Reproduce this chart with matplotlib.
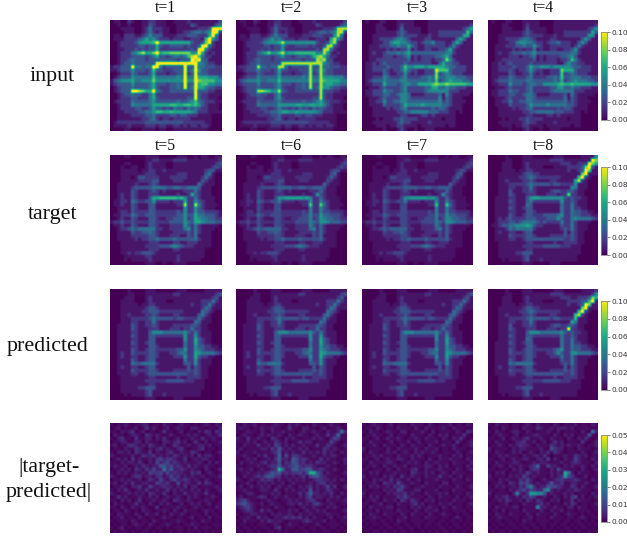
import numpy as np
import matplotlib
matplotlib.use("Agg")
import matplotlib.pyplot as plt

W, H = 627, 538

input_t1 = """
0110 0210 0112 2111 0011 1121 1111 1113
0010 0100 0113 2111 0001 1113 2111 1134
0001 1110 0124 2221 1001 1111 1222 3aaa
0000 1110 0124 2121 1001 1223 4434 5aa2
0110 2221 1235 3331 1112 2233 3222 6a41
0111 2222 3464 5322 2122 2112 2217 a531
0012 2223 5666 7a66 6666 6663 2238 a211
0012 2222 3323 3632 2333 3232 23aa 3211
0011 2223 2323 3622 2222 2223 2aa4 2111
0012 2245 7966 8a67 7888 8885 5a62 1211
0012 2233 3323 4633 2344 3479 a742 2111
0012 2343 3323 3333 3332 333a 9a33 1111
0012 3343 3333 3aaa aaaa aaaa a543 2211
1223 33a4 4344 aa42 3333 3a33 a443 3322
1123 3353 3323 7332 2233 3a34 a533 2222
0012 2243 2223 6222 1223 3a23 a433 2222
0123 3354 4444 7444 4445 4a44 a666 5553
1345 5564 4555 8555 5555 5a55 a877 7755
1233 3353 3334 6333 2334 3a33 a677 5544
0123 3343 3334 6322 2334 3a34 a664 3322
0123 33aa 9866 a432 2333 3333 a333 2211
0012 3343 3224 6222 2222 2222 a322 1111
0012 2233 2224 6322 2222 2233 a322 1110
0122 2243 3334 5333 3334 3345 7432 2211
0012 2254 4444 6666 6776 6776 7532 1110
0012 2223 3223 5332 3243 3243 4322 1110
0011 2222 3344 5776 6766 6665 4222 1111
0011 1122 2233 4222 2332 3322 2111 1000
0011 1111 1223 4212 2122 2221 1111 1000
0122 2222 2233 3333 3333 3222 2221 1000
0111 1211 1122 2122 1122 1212 2122 1000
0000 1100 0111 1011 0011 1111 1111 0000
"""

input_t4 = """
0100 0110 0011 1110 0001 1111 1111 1111
0000 1100 0012 1110 0001 1111 1111 1112
0000 1110 0013 1111 1001 1111 1111 1235
0000 1111 1123 2111 1001 1122 2222 2263
0001 1111 1123 2222 1112 1122 2222 2551
0001 1222 2344 3211 1122 1111 1113 5311
0001 1122 4554 4322 1233 4222 1135 3111
0011 1222 3343 3532 1122 2222 1242 1111
0011 1112 1212 2412 1122 1122 3521 1111
0012 1123 3343 4533 3333 3333 4421 1111
0011 1122 2122 3412 1222 2334 5311 1111
0011 2222 2222 2312 1222 1223 7421 1111
0112 1232 2222 3222 2222 1135 3322 1111
0112 2223 2223 6445 5545 5555 4332 2211
0112 2232 1223 5322 1122 2866 6322 2211
0111 1132 1122 4212 1122 2723 4322 2111
0112 2243 2223 4222 2334 3733 4443 3322
0123 3343 3334 4333 3334 3623 4544 4332
0112 2253 3323 4433 5555 6766 7666 6655
0011 1232 2223 4222 2233 5533 4332 2211
0112 2243 3223 4222 2234 4444 4222 1111
0112 2233 2234 4311 1122 2231 4211 1110
0011 1232 2224 4322 2222 2241 3211 1000
0011 2242 2334 4333 3333 3342 3211 1100
0011 1132 2223 5444 4544 4443 3211 1000
0001 1112 1223 4222 2222 3233 2111 1000
0001 1111 1122 3344 4443 3322 2110 1000
0001 1111 1112 2111 1221 2111 1110 0000
0000 1011 1223 2222 1111 1110 1110 0000
0001 1111 1123 2211 1112 1111 1110 0000
0000 1110 1122 1111 0111 1111 0110 0000
0000 0010 0012 1001 0011 1000 0000 0000
"""

target_t5 = """
0000 1100 0011 1100 0001 1100 1011 0011
0000 0000 0011 2211 1122 2211 1111 1112
0000 1100 0012 1111 0011 1111 1111 1123
0001 0011 0012 1111 0011 1111 1111 1232
0001 1111 0112 2112 1111 1111 1112 3311
0001 1111 1122 2111 1112 2211 1113 4100
0001 1101 3322 2211 1222 2211 1124 2100
0001 1111 2222 3311 1122 2111 1132 1100
0011 1112 1112 3211 1111 1111 1421 1100
0011 1123 3333 4444 3344 3344 4311 1000
0011 1132 1112 3212 1111 1222 4211 1000
0012 1132 1112 2211 1112 1126 3211 1000
0012 1132 1113 6677 7776 7522 4211 1100
0112 2143 2233 5222 2122 2622 5321 1100
0112 1132 1113 3111 1112 2922 9421 1110
0011 1132 1113 3111 1111 1522 5321 1100
0012 2132 2223 3222 2223 2522 5332 2221
0112 2243 2233 3222 2223 3533 6443 3321
0012 1132 1113 3211 2233 3523 6544 3322
1223 2232 2223 3222 2333 3543 6654 4433
0112 1132 1113 3211 1222 2532 4211 1110
0012 2343 4444 4221 1222 2452 4211 1100
0011 1132 2334 3211 1122 2232 4211 1000
0011 1122 2223 3211 1222 1132 4111 1000
0011 1112 1223 3433 3343 3333 4211 1000
0001 1111 1112 2211 1122 1122 2111 1000
0001 1111 1122 2233 3454 3222 1111 1000
0001 1111 1112 2211 1122 1111 1110 0000
0001 1212 2333 2111 1111 1111 1110 0000
0000 1111 1122 1111 1112 1111 1110 0000
0000 1011 1112 1111 1112 1111 1100 0000
0000 0000 0011 1001 0011 1100 0000 0000
"""

target_t8 = """
0000 0100 0011 1000 0001 1100 0001 1115
0000 0110 0011 1111 1122 2211 1111 11a8
0000 1110 0012 1111 1111 1222 1122 2a86
0000 1110 0012 1111 0001 1112 2223 8a31
0000 1111 0112 2111 1111 1112 1123 a811
0001 1111 1123 3221 1111 1111 1118 a111
0001 1111 1223 4322 2222 2111 117a 2100
0001 1211 1122 3211 1122 1111 1692 1000
0001 1122 2223 4333 3323 3222 2511 1000
0001 1122 1122 4211 1111 1111 5411 1000
0001 1131 1122 3211 1123 3223 3211 0000
0001 1132 1112 2211 1222 1228 2211 0000
0011 1122 1113 5665 5555 5532 3221 1000
0011 1132 1113 4222 2222 2522 3211 1000
0011 1122 1114 3111 1111 1422 4211 1000
0011 1132 1123 3111 1111 1422 4221 1000
0011 1122 1113 3211 1111 1422 4332 2110
0011 1132 1123 3222 3333 4522 4332 2211
0012 1232 2223 3322 2333 5322 4544 4432
0012 2233 2344 4432 3222 2422 4211 1100
0112 3344 5556 5322 1111 1322 4211 1000
0011 1243 4444 4211 1111 1232 4211 1000
0012 1122 1123 3111 1111 1131 3211 0000
0011 1132 2223 3211 1122 2232 3211 0000
0011 1122 1123 3333 3333 3322 3211 0000
0001 1111 1112 2111 1112 1122 2211 0000
0001 1111 1122 2222 3333 3222 1110 0000
0001 1111 1112 2111 1111 1111 1110 0000
0001 1111 2233 3111 1111 1111 1110 0000
0001 1111 1123 1111 1111 1111 1100 0000
0000 1011 1123 1112 1111 1111 1100 0000
0000 0000 0011 1000 0011 1000 0000 0000
"""

predicted_t5 = """
0000 0100 0011 1000 0001 1100 0001 1111
0000 0110 0011 1111 1122 1111 1111 1123
0000 1110 0012 1111 1111 1111 1111 1231
0001 1110 0012 1111 0011 1111 1122 2421
0001 1111 0112 2111 1111 1112 1122 4211
0001 1111 1123 3211 1111 1111 1124 3111
0001 1111 1223 3322 2222 2111 1143 2100
0001 1211 1122 3211 1122 1111 1342 1000
0001 1122 2223 4333 3323 3222 2421 1000
0001 1122 1122 4211 1111 1111 4311 1000
0011 1132 1122 3211 1122 2223 3211 0000
0011 1132 1112 2211 1222 1224 2211 0000
0011 1122 1113 5554 4444 4532 4211 1000
0011 1132 1113 3222 2222 2522 5211 1000
0011 1122 1113 3111 1111 1522 6321 1000
0011 1132 1123 3111 1111 1422 6321 1000
0011 1122 1113 3211 1111 1422 5332 2110
0011 1132 1123 3222 2223 3522 5432 2211
0012 1132 2223 3211 1223 4422 6544 4432
0012 1122 1123 3211 1122 2522 6322 1100
0011 1132 1123 3111 1111 1422 5211 1000
0011 1143 3444 4211 1111 1332 5211 1000
0012 1122 1123 3111 1111 1131 3211 0000
0011 1132 2223 3211 1122 2232 3211 0000
0011 1122 1123 3333 3333 3322 3211 0000
0001 1111 1112 2111 1112 1122 2211 0000
0001 1111 1122 2222 3333 3222 1110 0000
0001 1111 1112 2111 1111 1111 1110 0000
0001 1111 2233 3111 1111 1111 1110 0000
0001 1111 1123 1111 1111 1111 1100 0000
0000 1011 1123 1112 1111 1111 1100 0000
0000 0000 0011 1000 0011 1000 0000 0000
"""

predicted_t8 = """
0000 0100 0011 1000 0001 1100 0001 1112
0000 0110 0011 1111 1122 2211 1111 1125
0000 1110 0012 1111 1111 1222 1122 2386
0000 1110 0012 1111 0001 1112 2223 37a1
0000 1111 0112 2111 1111 1112 1123 a811
0001 1111 1123 3221 1111 1111 1118 a111
0001 1111 1223 4322 2222 2111 117a 2100
0001 1211 1122 3211 1122 1111 1792 1000
0001 1122 2223 4333 3323 3222 2711 1000
0001 1122 1122 4211 1111 1111 6411 1000
0001 1131 1122 3211 1123 3223 3211 0000
0001 1132 1112 2211 1222 122a 2211 0000
0001 1122 1113 5554 4444 4532 3221 1000
0001 1132 1113 3222 2222 2422 3211 1000
0001 1122 1114 3111 1111 1422 4211 1000
0011 1132 1123 3111 1111 1422 4221 1000
0011 1122 1113 3211 1111 1422 4332 2110
0011 1132 1123 3222 2223 4522 4332 2211
0011 1132 2223 3211 1223 5322 5544 4432
0011 1122 1123 3211 1122 2422 4211 1100
0011 1132 1123 3111 1111 1322 4211 1000
0011 1143 4444 4211 1111 1232 4211 1000
0012 1122 1123 3111 1111 1131 3211 0000
0011 1132 2223 3211 1122 2232 3211 0000
0011 1122 1123 3333 3333 3322 3211 0000
0001 1111 1112 2111 1112 1122 2211 0000
0001 1111 1122 2222 3333 3222 1110 0000
0001 1111 1112 2111 1111 1111 1110 0000
0001 1111 2233 3111 1111 1111 1110 0000
0001 1111 1123 1111 1111 1111 1100 0000
0000 1011 1123 1112 1111 1111 1100 0000
0000 0000 0011 1000 0011 1000 0000 0000
"""

error_t5 = """
1011 2101 1220 1102 1101 2110 1012 1021
0120 1012 0131 2101 2012 1102 2110 1102
1102 1230 1201 1013 1101 2011 0213 2032
0211 0122 1032 1210 1210 1121 2101 2113
1023 1103 1122 0213 1012 0112 1131 1210
0112 2012 2021 1102 2123 1201 3102 0112
1201 1332 1213 2112 0132 1121 1221 2011
0110 2113 2102 1231 2112 3101 1230 1101
1022 1203 2113 0211 2311 2113 2101 1012
2101 1121 1322 3121 2132 1212 0312 2101
0121 2031 2112 1342 3321 1301 2122 1101
1102 1221 3102 1423 4232 1211 1210 2021
1211 2012 1321 2255 3423 2131 2112 1101
0112 1203 2132 4227 3522 3212 1102 1012
1021 2112 1214 3342 4232 2113 2301 2101
2101 1023 3122 1331 2423 1212 1120 1112
0112 1211 2013 2142 1342 2321 2102 1011
1201 2131 1221 1432 3114 1221 1313 2101
0112 1022 3114 2123 2212 1302 2011 1121
1021 3101 2131 1211 3121 2112 1202 1012
2101 1212 1203 2113 1021 1311 2113 1101
0131 2011 2112 1201 2112 1021 2101 1210
1102 1201 3011 2112 1032 1121 0112 1101
0211 0113 1102 1021 2101 2012 1201 2011
1102 1021 1210 1301 1112 1101 2110 1021
0110 2101 0211 0112 1021 0211 1012 1101
1021 1102 1021 1201 0211 2101 1102 0110
0112 0110 2101 1012 1101 1012 0110 2011
1011 1021 0110 2101 0112 1101 1021 1010
0101 1012 1102 1011 2101 0112 1101 0111
1012 0101 1011 0110 1011 1010 2011 1010
0101 1010 0110 1010 0101 1011 0101 0101
"""

error_t6 = """
1021 1201 1012 1102 1210 1021 1012 1101
1211 0112 1121 1013 1102 2110 1201 1210
1012 1102 1021 1211 1012 1121 1021 1272
0121 1012 1211 2102 1121 1012 1131 2611
2103 1121 1032 1021 2101 1121 2102 4311
1112 1201 2113 2120 1131 2201 1114 2101
1021 1131 1214 3121 2112 1113 1132 1012
1201 1112 2132 5212 1121 2011 1321 2101
2011 1211 1123 5121 2113 1212 1312 1021
1121 1021 3112 6141 3321 1121 1212 2101
1012 1201 1213 6221 5423 2111 3121 1012
0211 2112 3122 5132 5423 1213 2211 2102
1101 1121 1233 5223 4532 3321 1121 1011
1211 2012 1123 c622 5534 5522 3211 2101
0112 1121 2354 5232 3342 4bb5 3121 1012
1021 1232 4553 3121 2123 1455 3211 1101
2101 2113 2321 2112 1212 1123 3221 2021
0112 1021 2121 1201 2111 1212 3312 1101
1201 2112 1201 2112 1021 2312 1241 3012
1121 1012 2113 1021 2112 1512 1132 1101
0112 2101 1121 2011 1131 3622 1213 1021
1201 1123 2012 1121 1021 3412 2112 1201
2342 1101 1211 0112 1211 2331 1021 1112
3453 2112 0121 1012 2131 2134 2112 1011
1234 2101 1102 1101 1012 1121 1021 2101
0123 2113 1210 1112 1201 2112 1201 1012
1011 2211 1021 2112 1021 1211 1121 1101
0112 1031 2102 1232 3231 2021 1012 0112
1021 1102 1321 2101 1112 3211 1201 1011
0110 1011 1012 1012 1101 1012 1011 1101
1011 0101 1102 3011 1011 0110 1101 1010
0101 1010 0110 1010 0101 1010 0110 0101
"""

error_t7 = """
1012 1101 2011 1021 1102 1011 1201 1021
0110 2101 1021 1102 1021 1112 1021 1101
1021 1012 1102 2011 1210 2011 1102 1032
0112 1101 2011 1021 1102 1021 2011 1310
1101 2012 1121 0112 1021 1102 1021 3101
1021 1101 2011 1201 2011 1201 1103 1012
0112 1021 1102 1021 1102 1012 1121 0112
2011 1102 1021 1112 1021 1201 1021 1101
1021 1012 1201 2102 1211 2101 1102 1012
0112 1211 1021 1121 2101 1121 1021 2011
1101 2012 1122 1021 1102 1021 1211 1021
1021 1112 2101 1212 1021 1211 1021 1102
0112 1021 1211 2011 1122 1021 2011 1021
1101 1102 1021 1123 1021 1121 1102 1012
1021 2011 1211 1032 1121 2012 1021 1101
2011 1021 2103 1121 1021 1131 1201 2011
1102 1211 3121 1201 2011 1211 1021 1021
0112 1032 2142 1121 1021 1102 2011 1101
1021 2112 1324 2101 1211 1021 1102 1012
1101 1021 2143 1112 2011 1201 1021 1101
2011 1102 1222 3121 1021 1121 2011 1021
1021 2011 1132 4211 1102 1021 1102 0112
0112 1021 1203 2132 1021 2011 1021 1101
1101 1201 1021 1123 1201 1021 1201 1012
1021 1112 2011 1021 2112 1102 1021 1011
0110 2011 1021 1102 1021 1201 1011 1101
1021 1021 1102 1021 1102 1012 1101 0110
0112 1101 1011 2011 1021 1101 1012 1011
1011 0110 1021 1011 1101 1011 0110 1010
0101 1011 0110 1101 1011 0110 1011 0101
1010 0101 1011 0110 1010 1011 0101 1010
0101 1010 0101 1010 0101 0101 1010 0101
"""

error_t8 = """
1021 1101 1012 1021 1102 1011 1201 1021
0110 2101 1021 1132 1121 2221 2011 1101
1021 1012 2102 1011 1210 2011 1102 1072
0112 1101 2011 1221 1102 1021 2011 1510
1101 2012 1123 1112 1021 1102 1021 3101
1021 1101 2231 1201 2013 1201 1103 1012
0112 1021 2322 1021 1132 1212 1121 0112
2011 1102 1221 1112 1053 2201 1021 1101
1021 1012 1201 2102 1313 2101 1102 1012
0112 1211 1021 1221 3101 1121 1321 2011
1101 2012 1122 1022 1402 1021 1421 1021
1021 1112 2101 1212 2111 1211 2321 1102
0112 1021 1211 2361 1422 1021 2112 1021
1101 1102 1210 2331 1021 4211 1102 1012
1021 2011 1214 2121 1121 21b7 2021 1101
2011 1021 2142 1211 1021 23a4 3101 2011
1102 1211 1324 2101 2112 3322 2321 1021
0112 1032 1434 2121 1252 2311 2211 2101
1021 2112 1325 8312 2544 3211 3202 1012
1101 1021 2342 4322 7921 2112 1321 1101
2011 1102 8213 aa99 5121 1121 2011 1021
1021 2311 2132 4311 2102 1021 3402 0112
0112 1321 1203 2132 1021 2011 3021 1101
1101 1201 1021 1123 1201 1021 3201 1012
1021 1112 2011 1192 2112 1102 2021 1011
0110 2011 1021 1102 1021 1201 1011 1101
1021 1021 1102 1021 1102 1012 1101 0110
0112 1101 1011 2011 1021 1101 1012 1011
1011 0110 1021 1011 1101 1011 0110 1010
0101 1011 0110 1101 1011 0110 1011 0101
1010 0101 1011 0110 1010 1011 0101 1010
0101 1010 0101 1010 0101 0101 1010 0101
"""

row_names = ["input", "target", "predicted", "|target-\npredicted|"]
row_label_xy = [(52, 77), (53, 214), (48, 347), (49, 480)]
column_titles = [["t=1", "t=2", "t=3", "t=4"], ["t=5", "t=6", "t=7", "t=8"]]

panels = [
    [(input_t1, 1.0), (input_t1, 0.85), (input_t4, 1.2), (input_t4, 1.0)],
    [(target_t5, 1.0), (target_t5, 0.85), (target_t5, 0.8), (target_t8, 1.0)],
    [(predicted_t5, 1.0), (predicted_t5, 1.0), (predicted_t5, 0.95), (predicted_t8, 1.0)],
    [(error_t5, 1.0), (error_t6, 1.0), (error_t7, 1.0), (error_t8, 1.0)],
]
# colour-bar value that each map symbol stands for (symbols 0-9, a, b, c)
level_values = [0.0, 0.6, 1.6, 2.7, 3.8, 5.0, 6.0, 7.0, 8.0, 9.0, 10.5, 11.5, 12.5]
row_unit = [0.01, 0.01, 0.01, 0.0027]
row_vmax = [0.10, 0.10, 0.10, 0.05]
cbar_ticks = [[0, .02, .04, .06, .08, .10]] * 3 + [[0, .01, .02, .03, .04, .05]]


def decode(text):
    return np.array([[level_values[int(c, 16)] for c in line.replace(" ", "")]
                     for line in text.strip().splitlines()], dtype=float)


plt.rcParams["font.family"] = ["Liberation Serif", "DejaVu Serif"]
fig = plt.figure(figsize=(W / 100, H / 100), dpi=100, facecolor="white")


def axes_px(x0, y0, x1, y1):
    return fig.add_axes([x0 / W, 1 - y1 / H, (x1 - x0) / W, (y1 - y0) / H])


col_x = [(110, 221), (236, 347), (362, 473), (488, 598)]
row_y = [(20, 131), (155, 265), (289, 400), (423, 533)]
cbar_y = [(32, 120), (167, 255), (301, 390), (435, 522)]
title_y = [8, 146]

for r, row in enumerate(panels):
    for c, (grid, level) in enumerate(row):
        ax = axes_px(col_x[c][0], row_y[r][0], col_x[c][1], row_y[r][1])
        im = ax.imshow(decode(grid) * level * row_unit[r], cmap="viridis",
                       vmin=0, vmax=row_vmax[r], aspect="auto",
                       interpolation="hermite")
        ax.set_axis_off()
    cax = axes_px(601, cbar_y[r][0], 607, cbar_y[r][1])
    cb = fig.colorbar(im, cax=cax)
    cb.set_ticks(cbar_ticks[r])
    cb.ax.set_yticklabels([f"{t:.2f}" for t in cbar_ticks[r]],
                          family="DejaVu Sans", fontsize=5.3, color="#333333")
    cb.ax.tick_params(length=2, width=0.5, pad=1.5, color="#555555")
    cb.outline.set_edgecolor("#888888")
    cb.outline.set_linewidth(0.6)

for t, titles in enumerate(column_titles):
    for c, s in enumerate(titles):
        fig.text((col_x[c][0] + col_x[c][1]) / 2 / W, 1 - title_y[t] / H, s,
                 ha="center", va="center", fontsize=11.3, color="#111111")

for (x, y), s in zip(row_label_xy, row_names):
    fig.text(x / W, 1 - y / H, s, ha="center", va="center", fontsize=15.8,
             linespacing=1.45, color="#111111")

fig.savefig("out.png", dpi=100)
